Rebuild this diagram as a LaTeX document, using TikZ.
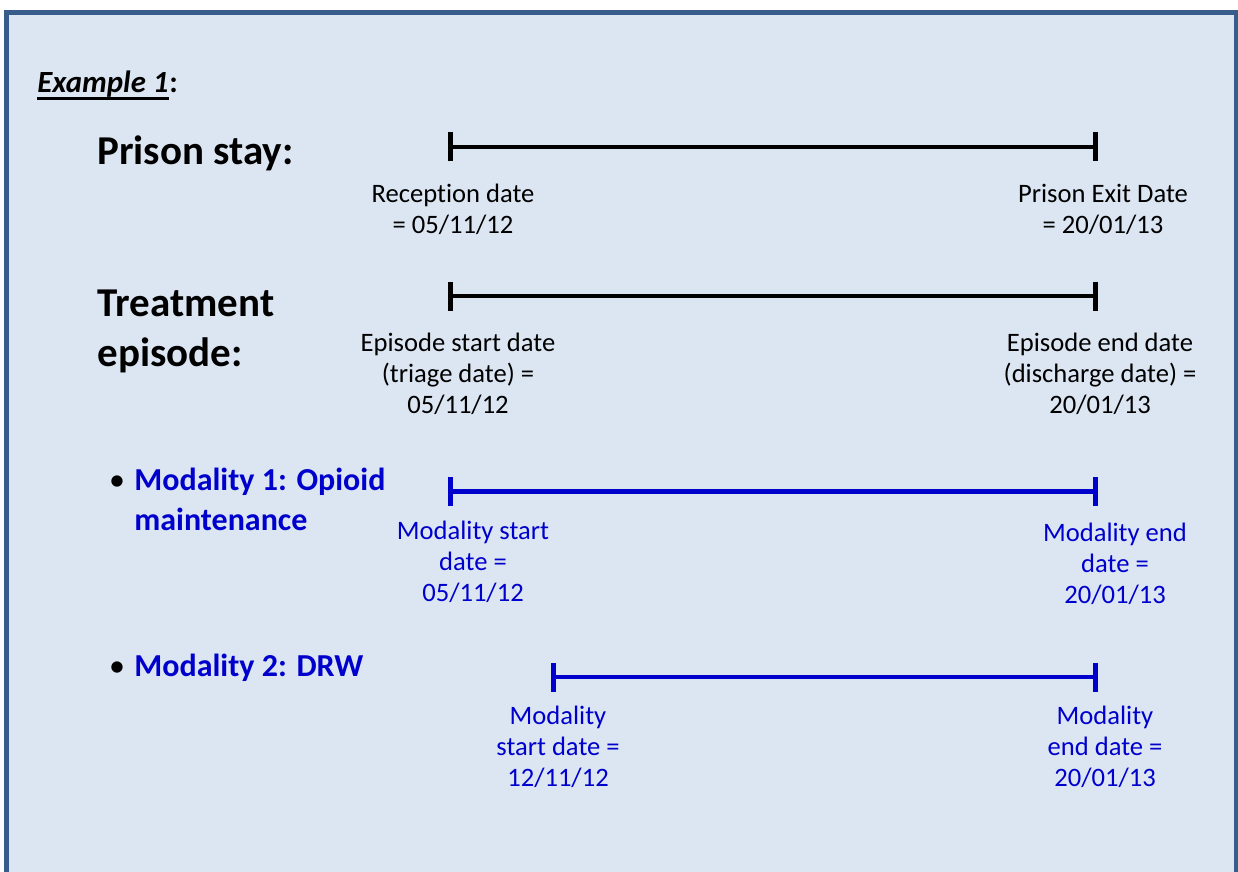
\documentclass[tikz,border=0pt]{standalone}
\usepackage{fontspec}
\setmainfont{Carlito}[Ligatures=NoCommon]
\usetikzlibrary{arrows.meta}
\definecolor{panelfill}{HTML}{DCE6F2}
\definecolor{paneledge}{HTML}{385D8A}
\definecolor{modblue}{RGB}{0,0,204}
\tikzset{panel/.style={draw=paneledge, line width=2.5pt, fill=panelfill}}
\tikzset{timespan/.style={line width=2.3pt, {Bar[width=14.5pt]}-{Bar[width=14.5pt]}}}
\tikzset{bluespan/.style={timespan, draw=modblue}}
\tikzset{exhead/.style={inner sep=0pt, anchor=base west, font=\fontsize{15.4}{18}\selectfont\bfseries}}
\tikzset{heading/.style={inner sep=0pt, anchor=base west, font=\fontsize{20.5}{25}\selectfont\bfseries}}
\tikzset{modality/.style={inner sep=0pt, anchor=base west, text=modblue, font=\fontsize{16}{20}\selectfont\bfseries}}
\tikzset{bulletmark/.style={inner sep=0pt, anchor=base, font=\fontsize{16}{20}\selectfont}}
\tikzset{stamp/.style={inner sep=0pt, anchor=north, align=center, font=\fontsize{13.3}{15.3}\selectfont}}
\begin{document}
\begin{tikzpicture}[x=0.5pt,y=-0.5pt]
	\useasboundingbox (0,0) rectangle (1238,872);
	\clip (0,0) rectangle (1238,872);
	\draw [style=panel] (6.5,12.5) rectangle (1236,900);

	\node [style=exhead] (ex) at (37,93) {\itshape Example 1};
	\node [style=exhead] (excolon) at (ex.base east) {:};
	\draw [line width=1.5pt] ([yshift=-2.75pt]ex.base west) -- ([yshift=-2.75pt]ex.base east);
	\node [style=heading] (prison) at (97,165) {Prison stay:};
	\node [style=heading, align=left, anchor=north west] (treat) at (97,281) {\strut Treatment\\episode:};
	\node [style=bulletmark] (b1) at (117,490) {\textbullet};
	\node [style=modality, align=left, anchor=north west] (mod1) at (134,462) {\strut Modality 1: Opioid\\maintenance};
	\node [style=bulletmark] (b2) at (117,676) {\textbullet};
	\node [style=modality] (mod2) at (134,676) {Modality 2: DRW};

	\coordinate (ps0) at (448,147);
	\coordinate (ps1) at (1098,147);
	\coordinate (te0) at (448,296);
	\coordinate (te1) at (1098,296);
	\coordinate (ma0) at (448,491.5);
	\coordinate (ma1) at (1098,491.5);
	\coordinate (mb0) at (551,677);
	\coordinate (mb1) at (1098,677);
	\draw [style=timespan] (ps0) -- (ps1);
	\draw [style=timespan] (te0) -- (te1);
	\draw [style=bluespan] (ma0) -- (ma1);
	\draw [style=bluespan] (mb0) -- (mb1);

	\node [style=stamp] (recv) at (453,181) {\strut Reception date\\= 05/11/12};
	\node [style=stamp] (exit) at (1103,181) {\strut Prison Exit Date\\= 20/01/13};
	\node [style=stamp] (epstart) at (458,330) {\strut Episode start date\\(triage date) =\\05/11/12};
	\node [style=stamp] (epend) at (1100,330) {\strut Episode end date\\(discharge date) =\\20/01/13};
	\node [style=stamp, text=modblue] (mastart) at (473,518) {\strut Modality start\\date =\\05/11/12};
	\node [style=stamp, text=modblue] (maend) at (1115,520) {\strut Modality end\\date =\\20/01/13};
	\node [style=stamp, text=modblue] (mbstart) at (558,703) {\strut Modality\\start date =\\12/11/12};
	\node [style=stamp, text=modblue] (mbend) at (1105,703) {\strut Modality\\end date =\\20/01/13};
\end{tikzpicture}
\end{document}
